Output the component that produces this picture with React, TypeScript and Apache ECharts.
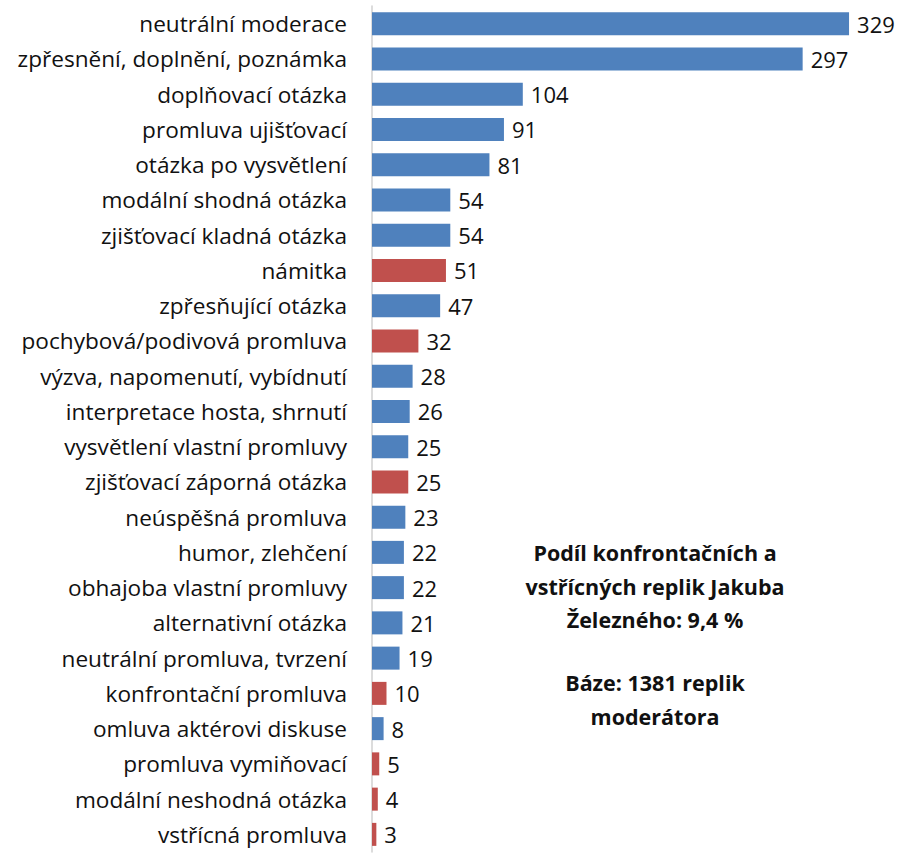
import React, { useEffect, useRef } from "react";
import * as echarts from "echarts";

const categories = [
  "neutrální moderace",
  "zpřesnění, doplnění, poznámka",
  "doplňovací otázka",
  "promluva ujišťovací",
  "otázka po vysvětlení",
  "modální shodná otázka",
  "zjišťovací kladná otázka",
  "námitka",
  "zpřesňující otázka",
  "pochybová/podivová promluva",
  "výzva, napomenutí, vybídnutí",
  "interpretace hosta, shrnutí",
  "vysvětlení vlastní promluvy",
  "zjišťovací záporná otázka",
  "neúspěšná promluva",
  "humor, zlehčení",
  "obhajoba vlastní promluvy",
  "alternativní otázka",
  "neutrální promluva, tvrzení",
  "konfrontační promluva",
  "omluva aktérovi diskuse",
  "promluva vymiňovací",
  "modální neshodná otázka",
  "vstřícná promluva",
];

const values = [329, 297, 104, 91, 81, 54, 54, 51, 47, 32, 28, 26, 25, 25, 23, 22, 22, 21, 19, 10, 8, 5, 4, 3];

const highlighted = [
  "námitka",
  "pochybová/podivová promluva",
  "zjišťovací záporná otázka",
  "konfrontační promluva",
  "promluva vymiňovací",
  "modální neshodná otázka",
  "vstřícná promluva",
];

const noteLines1 = ["Podíl konfrontačních a", "vstřícných replik Jakuba", "Železného: 9,4 %"];
const noteLines2 = ["Báze: 1381 replik", "moderátora"];

const BLUE = "#4F81BD";
const RED = "#C0504D";
const FONT = "'Open Sans', 'Noto Sans', sans-serif";

export default function App() {
  const ref = useRef<HTMLDivElement>(null);
  useEffect(() => {
    if (!ref.current) return;
    const chart = echarts.init(ref.current, null, { renderer: "svg" });
    const cats = [...categories].reverse();
    const vals = [...values].reverse();
    const noteStyle = {
      align: "center",
      verticalAlign: "top",
      fontSize: 21.5,
      fontWeight: "bold",
      fontFamily: FONT,
      lineHeight: 33.5,
      fill: "#111",
    };
    chart.setOption({
      animation: false,
      grid: { left: 372, top: 6, width: 493, height: 846, containLabel: false },
      xAxis: {
        type: "value",
        min: 0,
        max: 340,
        show: false,
      },
      yAxis: {
        type: "category",
        data: cats,
        axisLine: { show: true, lineStyle: { color: "#D0D0D0", width: 1.5 } },
        axisTick: { show: false },
        axisLabel: {
          color: "#111",
          fontSize: 22.6,
          fontFamily: FONT,
          margin: 25,
        },
      },
      series: [
        {
          type: "bar",
          barWidth: 23,
          data: vals.map((v, i) => ({
            value: v,
            itemStyle: { color: highlighted.includes(cats[i]) ? RED : BLUE },
          })),
          label: {
            show: true,
            position: "right",
            distance: 8,
            color: "#111",
            fontSize: 22,
            fontFamily: FONT,
          },
        },
      ],
      graphic: [
        {
          type: "text",
          x: 655,
          y: 536,
          style: { ...noteStyle, text: noteLines1.join("\n") },
        },
        {
          type: "text",
          x: 655,
          y: 666,
          style: { ...noteStyle, text: noteLines2.join("\n") },
        },
      ],
    });
    return () => chart.dispose();
  }, []);
  return (
    <div
      ref={ref}
      style={{ position: "absolute", left: 0, top: 0, width: 905, height: 855, background: "#fff" }}
    />
  );
}
